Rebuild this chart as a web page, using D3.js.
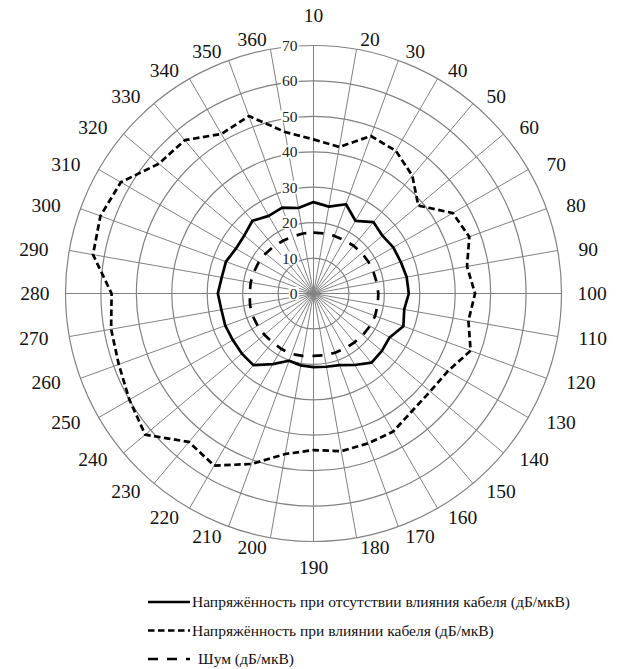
<!DOCTYPE html>
<html>
<head>
<meta charset="utf-8">
<script src="https://cdn.jsdelivr.net/npm/d3@7"></script>
<style>
  html, body { margin: 0; padding: 0; background: #fff; }
  svg { display: block; }
</style>
</head>
<body>
<svg id="chart" width="617" height="669"></svg>
<script>
// Direction labels (degrees), clockwise from the top
const directions = [10, 20, 30, 40, 50, 60, 70, 80, 90, 100, 110, 120,
                    130, 140, 150, 160, 170, 180, 190, 200, 210, 220, 230, 240,
                    250, 260, 270, 280, 290, 300, 310, 320, 330, 340, 350, 360];

// Radial scale ticks (dB/µV)
const radialTicks = [0, 10, 20, 30, 40, 50, 60, 70];

// Field strength without the cable
const withoutCable = [25.8, 24.9, 26.8, 23.7, 26.3, 25.4, 26.0, 26.2, 26.7, 26.9, 26.0, 27.0,
                      24.8, 25.2, 25.5, 23.3, 21.5, 21.0, 20.8, 20.6, 20.2, 23.0, 26.4, 26.4,
                      26.3, 26.5, 26.4, 27.0, 26.3, 26.3, 25.3, 25.5, 26.8, 25.3, 25.8, 24.5];

// Field strength with the cable
const withCable = [43.5, 42.0, 47.3, 46.5, 43.4, 38.6, 45.4, 46.8, 44.0, 45.6, 44.4, 47.2,
                   43.8, 43.0, 43.3, 45.0, 45.0, 45.2, 44.2, 46.0, 51.2, 56.1, 54.7, 62.0,
                   60.0, 58.5, 58.0, 57.0, 63.2, 64.0, 62.8, 57.0, 56.5, 52.0, 53.3, 46.3];

// Background noise
const noise = [17.2, 17.2, 17.3, 17.4, 17.6, 17.8, 17.9, 18.0, 18.1, 18.3, 18.4, 18.5,
               18.4, 18.2, 18.0, 17.9, 17.8, 17.7, 17.6, 17.9, 18.2, 18.1, 18.0, 18.1,
               18.2, 18.3, 18.2, 18.0, 18.0, 17.9, 17.8, 17.6, 17.4, 17.2, 17.1, 17.2];

const legendLabels = [
  "Напряжённость при отсутствии влияния кабеля (дБ/мкВ)",
  "Напряжённость при влиянии кабеля (дБ/мкВ)",
  "Шум (дБ/мкВ)"
];

const FONT = "Liberation Serif";
const svg = d3.select("#chart");
const cx = 313.5, cy = 293.5, R = 248;
const n = directions.length;

const angle = d3.scaleLinear().domain([0, n]).range([0, 2 * Math.PI]);
const r = d3.scaleLinear().domain([0, 70]).range([0, R]);

const grid = svg.append("g").attr("transform", `translate(${cx},${cy})`);

// spokes
grid.selectAll("line.spoke")
  .data(directions)
  .join("line")
  .attr("class", "spoke")
  .attr("x1", 0).attr("y1", 0)
  .attr("x2", (d, i) => r(70) * Math.sin(angle(i)))
  .attr("y2", (d, i) => -r(70) * Math.cos(angle(i)))
  .attr("stroke", "#828282")
  .attr("stroke-width", 1);

// rings
grid.selectAll("circle.ring")
  .data(radialTicks.filter(t => t > 0))
  .join("circle")
  .attr("class", "ring")
  .attr("r", d => r(d))
  .attr("fill", "none")
  .attr("stroke", "#828282")
  .attr("stroke-width", 1.2);

// series
const radial = d3.lineRadial()
  .angle((d, i) => angle(i))
  .radius(d => r(d))
  .curve(d3.curveLinearClosed);

const series = [
  { values: withoutCable, dash: null },
  { values: withCable, dash: "6.5,3.5" },
  { values: noise, dash: "10,9" }
];

const plot = svg.append("g").attr("transform", `translate(${cx},${cy})`);
plot.selectAll("path.series")
  .data(series)
  .join("path")
  .attr("class", "series")
  .attr("d", d => radial(d.values))
  .attr("fill", "none")
  .attr("stroke", "#000")
  .attr("stroke-width", 2.7)
  .attr("stroke-linejoin", "round")
  .attr("stroke-dasharray", d => d.dash);

// radial tick labels along the top spoke, on a white backing
const tickG = svg.append("g").attr("transform", `translate(${cx},${cy})`);
const tickLabels = tickG.selectAll("g.tick")
  .data(radialTicks)
  .join("g")
  .attr("class", "tick")
  .attr("transform", d => `translate(-16,${-r(d)})`);
tickLabels.append("text")
  .attr("text-anchor", "end")
  .attr("dy", "0.35em")
  .attr("font-family", FONT)
  .attr("font-size", 15.5)
  .attr("fill", "#222")
  .text(d => d);
tickLabels.each(function () {
  const g = d3.select(this);
  const bb = g.select("text").node().getBBox();
  g.insert("rect", "text")
    .attr("x", bb.x - 1).attr("y", bb.y + 2)
    .attr("width", bb.width + 2).attr("height", bb.height - 4)
    .attr("fill", "#fff");
});

// direction labels around the outside
const dirG = svg.append("g");
dirG.selectAll("text.dir")
  .data(directions)
  .join("text")
  .attr("class", "dir")
  .attr("font-family", FONT)
  .attr("font-size", 19.5)
  .attr("fill", "#111")
  .each(function (d, i) {
    const a = angle(i);
    const ux = Math.sin(a), uy = -Math.cos(a);
    const ex = cx + R * ux, ey = cy + R * uy;
    const t = d3.select(this);
    if (Math.abs(ux) < 0.01) {
      t.attr("x", ex).attr("y", ey + (uy < 0 ? -30 : 26)).attr("text-anchor", "middle");
    } else {
      const gap = Math.abs(uy) < 0.01 ? 16 : 21 * Math.abs(ux);
      t.attr("x", ex + Math.sign(ux) * gap)
       .attr("y", ey + 10 * uy)
       .attr("text-anchor", ux > 0 ? "start" : "end");
    }
    t.attr("dy", "0.35em").text(d);
  });

// legend
const legend = svg.append("g");
const rows = legend.selectAll("g.row")
  .data(series.map((s, i) => ({ ...s, label: legendLabels[i] })))
  .join("g")
  .attr("class", "row")
  .attr("transform", (d, i) => `translate(0,${602 + i * 28.5})`);
rows.append("line")
  .attr("x1", 148).attr("x2", 190)
  .attr("y1", 0).attr("y2", 0)
  .attr("stroke", "#000")
  .attr("stroke-width", 2.7)
  .attr("stroke-dasharray", d => d.dash);
rows.append("text")
  .attr("x", (d, i) => i === 2 ? 198 : 192)
  .attr("dy", "0.35em")
  .attr("font-family", FONT)
  .attr("font-size", 15.5)
  .attr("fill", "#111")
  .text(d => d.label);
</script>
</body>
</html>
